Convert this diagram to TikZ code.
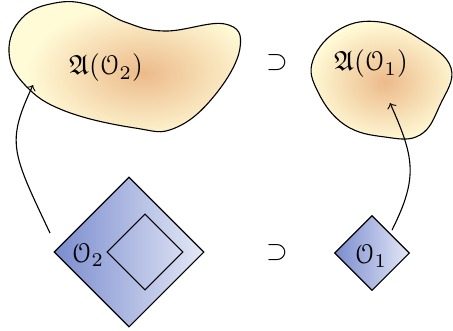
\documentclass[tikz,border=0pt]{standalone}
\usepackage{amssymb}
\usepackage{eucal}
\usetikzlibrary{shapes.geometric}
\definecolor{blobin}{RGB}{236,186,138}
\definecolor{blobout}{RGB}{255,251,215}
\definecolor{dleft}{RGB}{122,140,206}
\definecolor{dright}{RGB}{228,232,246}
\begin{document}
\begin{tikzpicture}[x=0.36pt,y=-0.36pt,
  dmd/.style={diamond,draw,inner sep=0pt,aspect=1},
  shd/.style={left color=dleft,right color=dright},
  lab/.style={inner sep=0pt},
  arr/.style={->}]
\useasboundingbox (0,0) rectangle (453,330);
% big blob
\draw[path picture={
   \fill[blobout] (path picture bounding box.south west) rectangle (path picture bounding box.north east);
   \shade[inner color=blobin,outer color=blobout] (143,73) ellipse [x radius=42pt,y radius=25pt];}]
  plot[smooth cycle,tension=0.7] coordinates {(9,52) (22,18) (55,3) (90,5) (125,22) (165,31) (225,24) (240,48) (215,95) (175,128) (135,128) (65,111) (25,85)};
% small blob
\draw[path picture={
   \fill[blobout] (path picture bounding box.south west) rectangle (path picture bounding box.north east);
   \shade[inner color=blobin,outer color=blobout] (385,82) ellipse [x radius=28pt,y radius=22pt];}]
  plot[smooth cycle,tension=0.7] coordinates {(313,60) (340,29) (380,22) (420,39) (451,68) (440,105) (420,135) (385,137) (345,125) (318,92)};
\node[lab] (A2) at (106,68) {$\mathfrak{A}(\mathcal{O}_2)$};
\node[lab] (A1) at (371,64) {$\mathfrak{A}(\mathcal{O}_1)$};
\node[lab] (sup1) at (277,63) {$\supset$};
\node[lab] (sup2) at (277,253) {$\supset$};
% diamonds
\node[dmd,shd,minimum width=54pt,minimum height=54pt] (D2) at (129,252) {};
\node[dmd,minimum width=27.4pt,minimum height=27.4pt] (D2i) at (145,252) {};
\node[lab] (O2) at (88,255) {$\mathcal{O}_2$};
\node[dmd,shd,minimum width=27pt,minimum height=27pt] (D1) at (372,253) {};
\node[lab] (O1) at (371,256) {$\mathcal{O}_1$};
% arrows
\coordinate (t2) at ([shift={(-79,-19)}]D2.center);
\coordinate (h2) at (33,85);
\coordinate (t1) at ([shift={(20,-23)}]D1.center);
\coordinate (h1) at (390,103);
\draw[arr] (t2) .. controls (11.4,151.4) and (6.2,142.7) .. (h2);
\draw[arr] (t1) .. controls (418.5,177) and (414.2,157.4) .. (h1);
\end{tikzpicture}
\end{document}
